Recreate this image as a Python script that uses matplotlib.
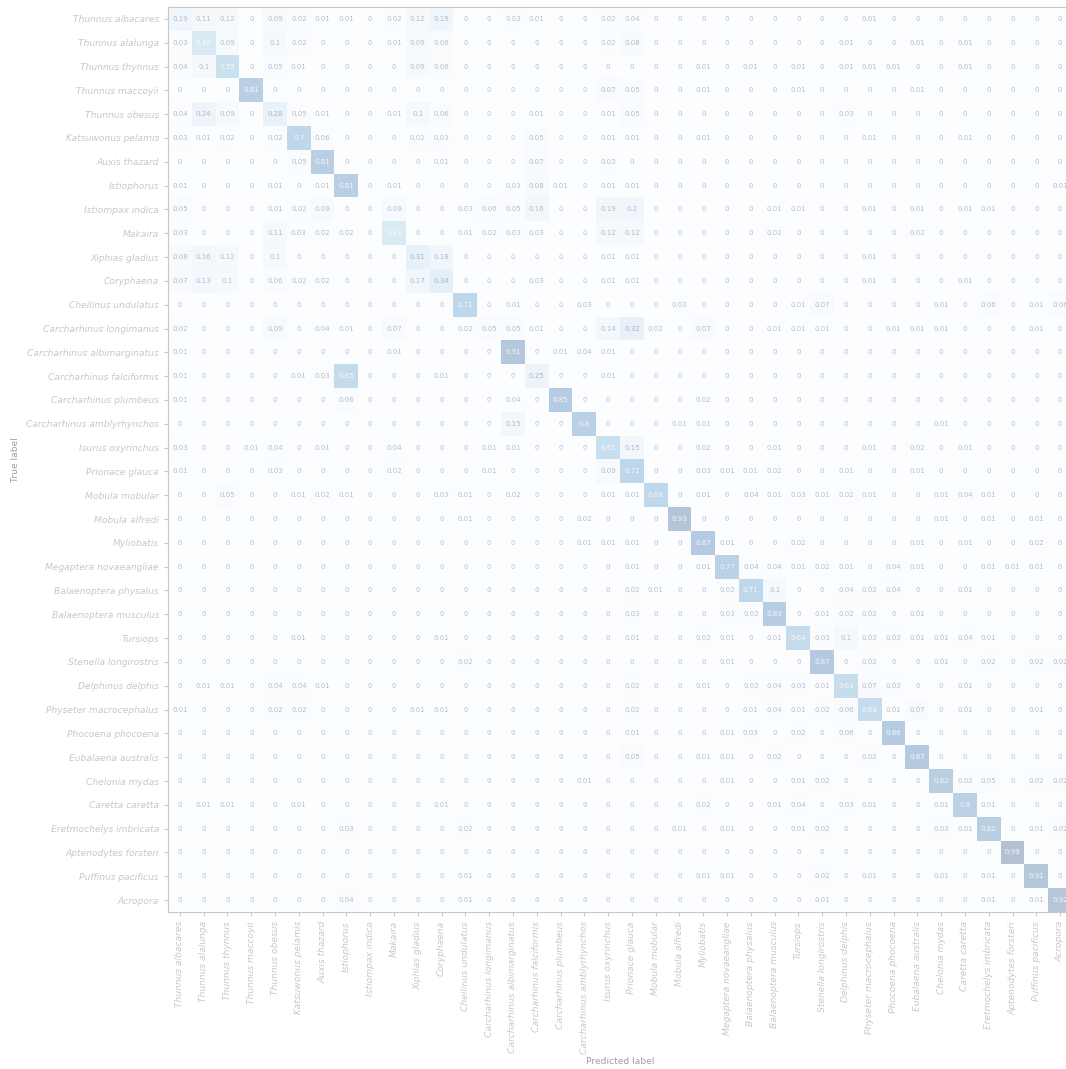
import numpy as np
import matplotlib
matplotlib.use("Agg")
import matplotlib.pyplot as plt

# class names, same order on both axes
labels = [
    "Thunnus albacares", "Thunnus alalunga", "Thunnus thynnus", "Thunnus maccoyii",
    "Thunnus obesus", "Katsuwonus pelamis", "Auxis thazard", "Istiophorus",
    "Istiompax indica", "Makaira", "Xiphias gladius", "Coryphaena",
    "Cheilinus undulatus", "Carcharhinus longimanus", "Carcharhinus albimarginatus",
    "Carcharhinus falciformis", "Carcharhinus plumbeus", "Carcharhinus amblyrhynchos",
    "Isurus oxyrinchus", "Prionace glauca", "Mobula mobular", "Mobula alfredi",
    "Myliobatis", "Megaptera novaeangliae", "Balaenoptera physalus",
    "Balaenoptera musculus", "Tursiops", "Stenella longirostris", "Delphinus delphis",
    "Physeter macrocephalus", "Phocoena phocoena", "Eubalaena australis",
    "Chelonia mydas", "Caretta caretta", "Eretmochelys imbricata",
    "Aptenodytes forsteri", "Puffinus pacificus", "Acropora",
]

# normalised confusion matrix, one list per true label
cm_rows = [
    [0.19, 0.11, 0.12, 0, 0.09, 0.02, 0.01, 0.01, 0, 0.02, 0.12, 0.19, 0, 0, 0.03, 0.01, 0, 0, 0.02, 0.04, 0, 0, 0, 0, 0, 0, 0, 0, 0, 0.01, 0, 0, 0, 0, 0, 0, 0, 0],
    [0.03, 0.46, 0.09, 0, 0.1, 0.02, 0, 0, 0, 0.01, 0.09, 0.06, 0, 0, 0, 0, 0, 0, 0.02, 0.08, 0, 0, 0, 0, 0, 0, 0, 0, 0.01, 0, 0, 0.01, 0, 0.01, 0, 0, 0, 0],
    [0.04, 0.1, 0.59, 0, 0.05, 0.01, 0, 0, 0, 0, 0.09, 0.06, 0, 0, 0, 0, 0, 0, 0, 0, 0, 0, 0.01, 0, 0.01, 0, 0.01, 0, 0.01, 0.01, 0.01, 0, 0, 0.01, 0, 0, 0, 0],
    [0, 0, 0, 0.81, 0, 0, 0, 0, 0, 0, 0, 0, 0, 0, 0, 0, 0, 0, 0.07, 0.05, 0, 0, 0.01, 0, 0, 0, 0.01, 0, 0, 0, 0, 0.01, 0, 0, 0, 0, 0, 0],
    [0.04, 0.24, 0.09, 0, 0.28, 0.05, 0.01, 0, 0, 0.01, 0.1, 0.06, 0, 0, 0, 0.01, 0, 0, 0.01, 0.05, 0, 0, 0, 0, 0, 0, 0, 0, 0.03, 0, 0, 0, 0, 0, 0, 0, 0, 0],
    [0.03, 0.01, 0.02, 0, 0.02, 0.7, 0.06, 0, 0, 0, 0.02, 0.03, 0, 0, 0, 0.05, 0, 0, 0.01, 0.01, 0, 0, 0.01, 0, 0, 0, 0, 0, 0, 0.01, 0, 0, 0, 0.01, 0, 0, 0, 0],
    [0, 0, 0, 0, 0, 0.05, 0.81, 0, 0, 0, 0, 0.01, 0, 0, 0, 0.07, 0, 0, 0.03, 0, 0, 0, 0, 0, 0, 0, 0, 0, 0, 0, 0, 0, 0, 0, 0, 0, 0, 0],
    [0.01, 0, 0, 0, 0.01, 0, 0.01, 0.81, 0, 0.01, 0, 0, 0, 0, 0.03, 0.08, 0.01, 0, 0.01, 0.01, 0, 0, 0, 0, 0, 0, 0, 0, 0, 0, 0, 0, 0, 0, 0, 0, 0, 0.01],
    [0.05, 0, 0, 0, 0.01, 0.02, 0.09, 0, 0, 0.09, 0, 0, 0.03, 0.06, 0.05, 0.16, 0, 0, 0.19, 0.2, 0, 0, 0, 0, 0, 0.01, 0.01, 0, 0, 0.01, 0, 0.01, 0, 0.01, 0.01, 0, 0, 0],
    [0.03, 0, 0, 0, 0.11, 0.03, 0.02, 0.02, 0, 0.43, 0, 0, 0.01, 0.02, 0.03, 0.03, 0, 0, 0.12, 0.12, 0, 0, 0, 0, 0, 0.02, 0, 0, 0, 0, 0, 0.02, 0, 0, 0, 0, 0, 0],
    [0.08, 0.16, 0.12, 0, 0.1, 0, 0, 0, 0, 0, 0.31, 0.18, 0, 0, 0, 0, 0, 0, 0.01, 0.01, 0, 0, 0, 0, 0, 0, 0, 0, 0, 0.01, 0, 0, 0, 0, 0, 0, 0, 0],
    [0.07, 0.13, 0.1, 0, 0.06, 0.02, 0.02, 0, 0, 0, 0.17, 0.34, 0, 0, 0, 0.03, 0, 0, 0.01, 0.01, 0, 0, 0, 0, 0, 0, 0, 0, 0, 0.01, 0, 0, 0, 0.01, 0, 0, 0, 0],
    [0, 0, 0, 0, 0, 0, 0, 0, 0, 0, 0, 0, 0.71, 0, 0.01, 0, 0, 0.03, 0, 0, 0, 0.03, 0, 0, 0, 0, 0.01, 0.07, 0, 0, 0, 0, 0.01, 0, 0.06, 0, 0.01, 0.06],
    [0.02, 0, 0, 0, 0.09, 0, 0.04, 0.01, 0, 0.07, 0, 0, 0.02, 0.05, 0.05, 0.01, 0, 0, 0.14, 0.32, 0.02, 0, 0.07, 0, 0, 0.01, 0.01, 0.01, 0, 0, 0.01, 0.01, 0.01, 0, 0, 0, 0.01, 0],
    [0.01, 0, 0, 0, 0, 0, 0, 0, 0, 0.01, 0, 0, 0, 0, 0.91, 0, 0.01, 0.04, 0.01, 0, 0, 0, 0, 0, 0, 0, 0, 0, 0, 0, 0, 0, 0, 0, 0, 0, 0, 0],
    [0.01, 0, 0, 0, 0, 0.01, 0.03, 0.65, 0, 0, 0, 0.01, 0, 0, 0, 0.25, 0, 0, 0.01, 0, 0, 0, 0, 0, 0, 0, 0, 0, 0, 0, 0, 0, 0, 0, 0, 0, 0, 0],
    [0.01, 0, 0, 0, 0, 0, 0, 0.06, 0, 0, 0, 0, 0, 0, 0.04, 0, 0.85, 0, 0, 0, 0, 0, 0.02, 0, 0, 0, 0, 0, 0, 0, 0, 0, 0, 0, 0, 0, 0, 0],
    [0, 0, 0, 0, 0, 0, 0, 0, 0, 0, 0, 0, 0, 0, 0.15, 0, 0, 0.8, 0, 0, 0, 0.01, 0.01, 0, 0, 0, 0, 0, 0, 0, 0, 0, 0.01, 0, 0, 0, 0, 0],
    [0.03, 0, 0, 0.01, 0.04, 0, 0.01, 0, 0, 0.04, 0, 0, 0, 0.01, 0.01, 0, 0, 0, 0.61, 0.15, 0, 0, 0.02, 0, 0, 0.01, 0, 0, 0, 0.01, 0, 0.02, 0, 0.01, 0, 0, 0, 0],
    [0.01, 0, 0, 0, 0.03, 0, 0, 0, 0, 0.02, 0, 0, 0, 0.01, 0, 0, 0, 0, 0.09, 0.72, 0, 0, 0.03, 0.01, 0.01, 0.02, 0, 0, 0.01, 0, 0, 0.01, 0, 0, 0, 0, 0, 0],
    [0, 0, 0.05, 0, 0, 0.01, 0.02, 0.01, 0, 0, 0, 0.03, 0.01, 0, 0.02, 0, 0, 0, 0.01, 0.01, 0.69, 0, 0.01, 0, 0.04, 0.01, 0.03, 0.01, 0.02, 0.01, 0, 0, 0.01, 0.04, 0.01, 0, 0, 0],
    [0, 0, 0, 0, 0, 0, 0, 0, 0, 0, 0, 0, 0.01, 0, 0, 0, 0, 0.02, 0, 0, 0, 0.93, 0, 0, 0, 0, 0, 0, 0, 0, 0, 0, 0.01, 0, 0.01, 0, 0.01, 0],
    [0, 0, 0, 0, 0, 0, 0, 0, 0, 0, 0, 0, 0, 0, 0, 0, 0, 0.01, 0.01, 0.01, 0, 0, 0.87, 0.01, 0, 0, 0.02, 0, 0, 0, 0, 0.01, 0, 0.01, 0, 0, 0.02, 0],
    [0, 0, 0, 0, 0, 0, 0, 0, 0, 0, 0, 0, 0, 0, 0, 0, 0, 0, 0, 0.01, 0, 0, 0.01, 0.77, 0.04, 0.04, 0.01, 0.02, 0.01, 0, 0.04, 0.01, 0, 0, 0.01, 0.01, 0.01, 0],
    [0, 0, 0, 0, 0, 0, 0, 0, 0, 0, 0, 0, 0, 0, 0, 0, 0, 0, 0, 0.02, 0.01, 0, 0, 0.02, 0.71, 0.1, 0, 0, 0.04, 0.02, 0.04, 0, 0, 0.01, 0, 0, 0, 0],
    [0, 0, 0, 0, 0, 0, 0, 0, 0, 0, 0, 0, 0, 0, 0, 0, 0, 0, 0, 0.03, 0, 0, 0, 0.03, 0.02, 0.83, 0, 0.01, 0.02, 0.02, 0, 0.01, 0, 0, 0, 0, 0, 0],
    [0, 0, 0, 0, 0, 0.01, 0, 0, 0, 0, 0, 0.01, 0, 0, 0, 0, 0, 0, 0, 0.01, 0, 0, 0.02, 0.01, 0, 0.01, 0.64, 0.03, 0.1, 0.03, 0.03, 0.01, 0.01, 0.04, 0.01, 0, 0, 0],
    [0, 0, 0, 0, 0, 0, 0, 0, 0, 0, 0, 0, 0.02, 0, 0, 0, 0, 0, 0, 0, 0, 0, 0, 0.01, 0, 0, 0, 0.87, 0, 0.02, 0, 0, 0.01, 0, 0.02, 0, 0.02, 0.02],
    [0, 0.01, 0.01, 0, 0.04, 0.04, 0.01, 0, 0, 0, 0, 0, 0, 0, 0, 0, 0, 0, 0, 0.02, 0, 0, 0.01, 0, 0.02, 0.04, 0.03, 0.01, 0.63, 0.07, 0.03, 0, 0, 0.01, 0, 0, 0, 0],
    [0.01, 0, 0, 0, 0.02, 0.02, 0, 0, 0, 0, 0.01, 0.01, 0, 0, 0, 0, 0, 0, 0, 0.02, 0, 0, 0, 0, 0.01, 0.04, 0.01, 0.02, 0.06, 0.64, 0.01, 0.07, 0, 0.01, 0, 0, 0.01, 0],
    [0, 0, 0, 0, 0, 0, 0, 0, 0, 0, 0, 0, 0, 0, 0, 0, 0, 0, 0, 0.01, 0, 0, 0, 0.01, 0.03, 0, 0.02, 0, 0.06, 0, 0.86, 0, 0, 0, 0, 0, 0, 0],
    [0, 0, 0, 0, 0, 0, 0, 0, 0, 0, 0, 0, 0, 0, 0, 0, 0, 0, 0, 0.05, 0, 0, 0.01, 0.01, 0, 0.02, 0, 0, 0, 0.02, 0, 0.87, 0, 0, 0, 0, 0, 0],
    [0, 0, 0, 0, 0, 0, 0, 0, 0, 0, 0, 0, 0, 0, 0, 0, 0, 0.01, 0, 0, 0, 0, 0, 0.01, 0, 0, 0.01, 0.02, 0, 0, 0, 0, 0.82, 0.02, 0.05, 0, 0.02, 0.02],
    [0, 0.01, 0.01, 0, 0, 0.01, 0, 0, 0, 0, 0, 0.01, 0, 0, 0, 0, 0, 0, 0, 0, 0, 0, 0.02, 0, 0, 0.01, 0.04, 0, 0.03, 0.01, 0, 0, 0.01, 0.8, 0.01, 0, 0, 0],
    [0, 0, 0, 0, 0, 0, 0, 0.03, 0, 0, 0, 0, 0.02, 0, 0, 0, 0, 0, 0, 0, 0, 0.01, 0, 0.01, 0, 0, 0.01, 0.02, 0, 0, 0, 0, 0.03, 0.01, 0.82, 0, 0.01, 0.02],
    [0, 0, 0, 0, 0, 0, 0, 0, 0, 0, 0, 0, 0, 0, 0, 0, 0, 0, 0, 0, 0, 0, 0, 0, 0, 0, 0, 0, 0, 0, 0, 0, 0, 0, 0, 0.99, 0, 0],
    [0, 0, 0, 0, 0, 0, 0, 0, 0, 0, 0, 0, 0.01, 0, 0, 0, 0, 0, 0, 0, 0, 0, 0.01, 0.01, 0, 0, 0, 0.02, 0, 0.01, 0, 0, 0.01, 0, 0.01, 0, 0.91, 0],
    [0, 0, 0, 0, 0, 0, 0, 0.04, 0, 0, 0, 0, 0.01, 0, 0, 0, 0, 0, 0, 0, 0, 0, 0, 0, 0, 0, 0, 0.01, 0, 0, 0, 0, 0, 0, 0.01, 0, 0.01, 0.92],
]

cm = np.array(cm_rows)
n = len(labels)

W, H = 1066, 1069
fig = plt.figure(figsize=(W / 100, H / 100), dpi=100)
# the matrix runs a little past the right edge, like the original crop
ax = fig.add_axes([168 / W, (H - 912) / H, 904 / W, 905 / H])

cmap = plt.get_cmap("Blues")
ax.imshow(cm, cmap=cmap, vmin=0, vmax=cm.max(), alpha=0.3, aspect="auto",
          interpolation="nearest")

thresh = 0.4
for i in range(n):
    for j in range(n):
        v = cm[i, j]
        if v > thresh:
            color, a = "white", 0.85
        else:
            color, a = cmap(1.0), 0.3
        ax.text(j, i, f"{v:g}", ha="center", va="center", fontsize=5,
                color=color, alpha=a)

label_color = "#a0a0a0"
ax.set_xticks(range(n))
ax.set_yticks(range(n))
ax.set_xticklabels(labels, rotation=90, fontsize=6.6, style="italic", color=label_color)
ax.set_yticklabels(labels, fontsize=6.6, style="italic", color=label_color)
ax.tick_params(colors="#c8c8c8", length=3)
for s in ax.spines.values():
    s.set_color("#c8c8c8")
ax.set_xlabel("Predicted label", fontsize=6.6, color=label_color, labelpad=2)
ax.set_ylabel("True label", fontsize=6.6, color=label_color, labelpad=4)

fig.savefig("out.png", dpi=100)
